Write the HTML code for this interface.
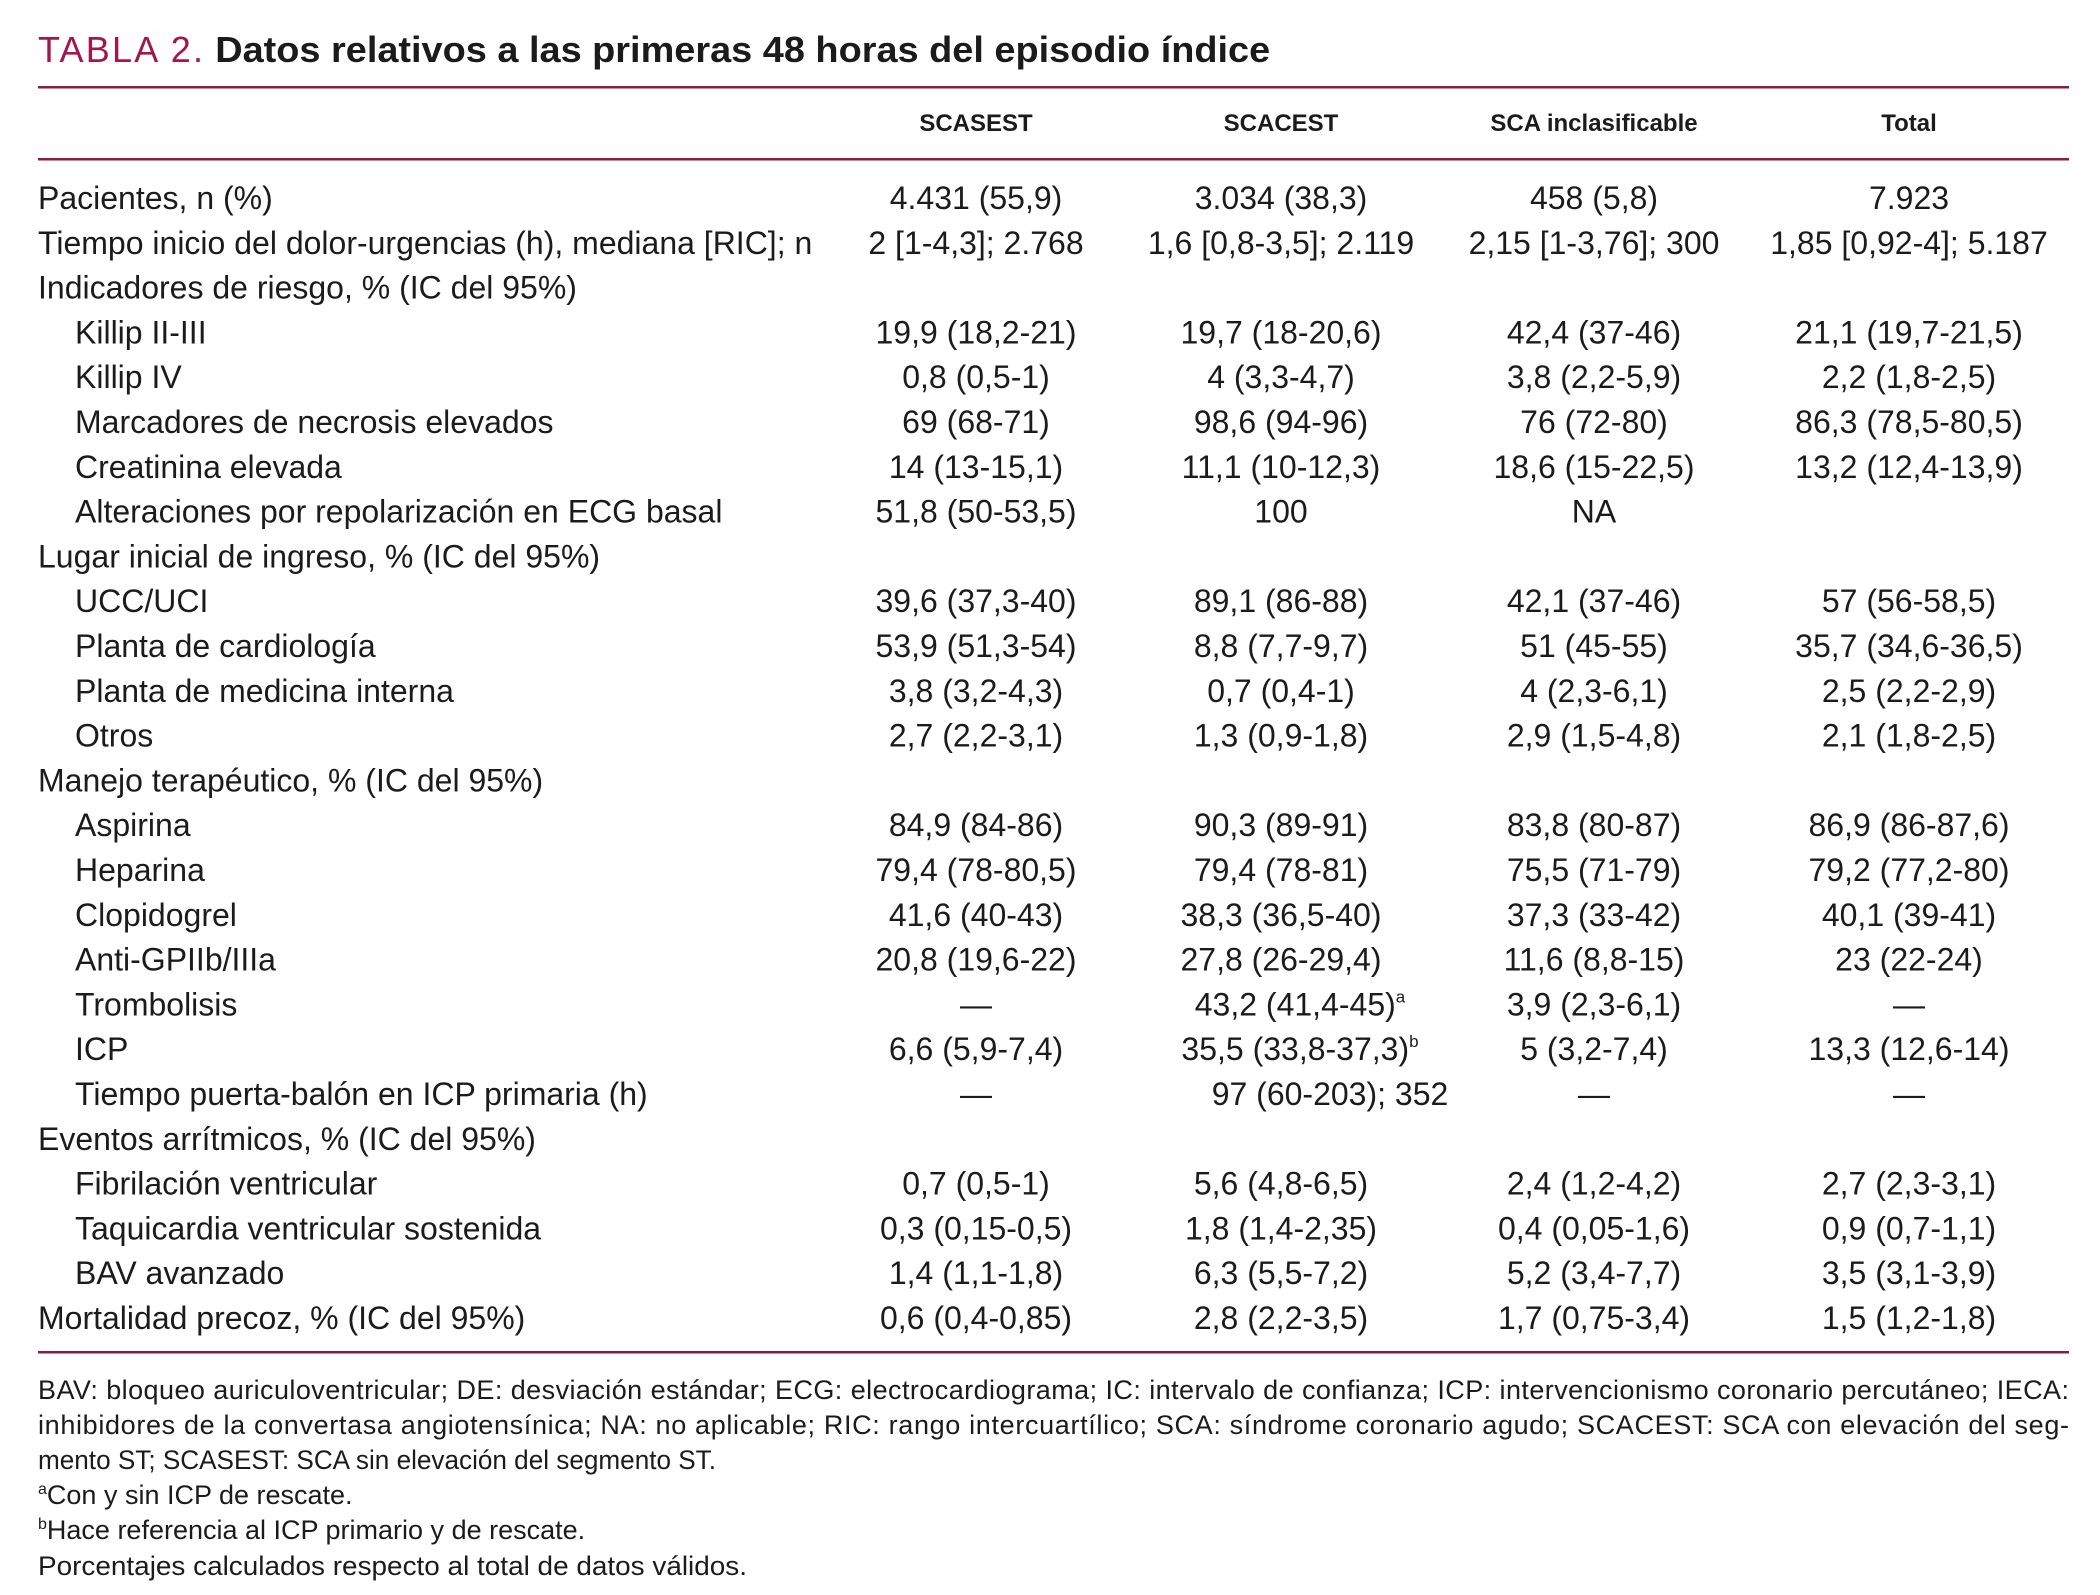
<!DOCTYPE html>
<html><head><meta charset="utf-8"><style>
html,body{margin:0;padding:0;background:#fff;}
svg{display:block;}
text{font-family:"Liberation Sans",sans-serif;fill:#1b1b1b;}
</style></head><body>
<svg id="t" width="2100" height="1595" viewBox="0 0 2100 1595" xmlns="http://www.w3.org/2000/svg">
<text x="38" y="62" font-size="36"><tspan fill="#a3174f" textLength="165">TABLA 2.</tspan><tspan dx="10" font-weight="bold" textLength="1055" lengthAdjust="spacingAndGlyphs">Datos relativos a las primeras 48 horas del episodio índice</tspan></text>
<rect x="38" y="86" width="2031" height="2.5" fill="#8b1d41"/>
<rect x="38" y="158" width="2031" height="2.5" fill="#8b1d41"/>
<rect x="38" y="1351" width="2031" height="2.5" fill="#8b1d41"/>
<g id="hdr"></g>
<g id="body"></g>
<g font-size="27">
<text x="38" y="1399" textLength="2031" lengthAdjust="spacing">BAV: bloqueo auriculoventricular; DE: desviación estándar; ECG: electrocardiograma; IC: intervalo de confianza; ICP: intervencionismo coronario percutáneo; IECA:</text>
<text x="38" y="1434" textLength="2031" lengthAdjust="spacing">inhibidores de la convertasa angiotensínica; NA: no aplicable; RIC: rango intercuartílico; SCA: síndrome coronario agudo; SCACEST: SCA con elevación del seg-</text>
<text x="38" y="1469" textLength="678" lengthAdjust="spacingAndGlyphs">mento ST; SCASEST: SCA sin elevación del segmento ST.</text>
<text x="38" y="1504"><tspan font-size="16" dy="-10">a</tspan><tspan dy="10">Con y sin ICP de rescate.</tspan></text>
<text x="38" y="1539"><tspan font-size="16" dy="-10">b</tspan><tspan dy="10">Hace referencia al ICP primario y de rescate.</tspan></text>
<text x="38" y="1575" textLength="709" lengthAdjust="spacingAndGlyphs">Porcentajes calculados respecto al total de datos válidos.</text>
</g>
</svg>
<script>
const headers=["SCASEST","SCACEST","SCA inclasificable","Total"];
const labels=["Pacientes, n (%)","Tiempo inicio del dolor-urgencias (h), mediana [RIC]; n","Indicadores de riesgo, % (IC del 95%)","Killip II-III","Killip IV","Marcadores de necrosis elevados","Creatinina elevada","Alteraciones por repolarización en ECG basal","Lugar inicial de ingreso, % (IC del 95%)","UCC/UCI","Planta de cardiología","Planta de medicina interna","Otros","Manejo terapéutico, % (IC del 95%)","Aspirina","Heparina","Clopidogrel","Anti-GPIIb/IIIa","Trombolisis","ICP","Tiempo puerta-balón en ICP primaria (h)","Eventos arrítmicos, % (IC del 95%)","Fibrilación ventricular","Taquicardia ventricular sostenida","BAV avanzado","Mortalidad precoz, % (IC del 95%)"];
const indent=[0,0,0,1,1,1,1,1,0,1,1,1,1,0,1,1,1,1,1,1,1,0,1,1,1,0];
const colScasest=["4.431 (55,9)","2 [1-4,3]; 2.768","","19,9 (18,2-21)","0,8 (0,5-1)","69 (68-71)","14 (13-15,1)","51,8 (50-53,5)","","39,6 (37,3-40)","53,9 (51,3-54)","3,8 (3,2-4,3)","2,7 (2,2-3,1)","","84,9 (84-86)","79,4 (78-80,5)","41,6 (40-43)","20,8 (19,6-22)","—","6,6 (5,9-7,4)","—","","0,7 (0,5-1)","0,3 (0,15-0,5)","1,4 (1,1-1,8)","0,6 (0,4-0,85)"];
const colScacest=["3.034 (38,3)","1,6 [0,8-3,5]; 2.119","","19,7 (18-20,6)","4 (3,3-4,7)","98,6 (94-96)","11,1 (10-12,3)","100","","89,1 (86-88)","8,8 (7,7-9,7)","0,7 (0,4-1)","1,3 (0,9-1,8)","","90,3 (89-91)","79,4 (78-81)","38,3 (36,5-40)","27,8 (26-29,4)","43,2 (41,4-45)|a","35,5 (33,8-37,3)|b","97 (60-203); 352","","5,6 (4,8-6,5)","1,8 (1,4-2,35)","6,3 (5,5-7,2)","2,8 (2,2-3,5)"];
const colInclas=["458 (5,8)","2,15 [1-3,76]; 300","","42,4 (37-46)","3,8 (2,2-5,9)","76 (72-80)","18,6 (15-22,5)","NA","","42,1 (37-46)","51 (45-55)","4 (2,3-6,1)","2,9 (1,5-4,8)","","83,8 (80-87)","75,5 (71-79)","37,3 (33-42)","11,6 (8,8-15)","3,9 (2,3-6,1)","5 (3,2-7,4)","—","","2,4 (1,2-4,2)","0,4 (0,05-1,6)","5,2 (3,4-7,7)","1,7 (0,75-3,4)"];
const colTotal=["7.923","1,85 [0,92-4]; 5.187","","21,1 (19,7-21,5)","2,2 (1,8-2,5)","86,3 (78,5-80,5)","13,2 (12,4-13,9)","","","57 (56-58,5)","35,7 (34,6-36,5)","2,5 (2,2-2,9)","2,1 (1,8-2,5)","","86,9 (86-87,6)","79,2 (77,2-80)","40,1 (39-41)","23 (22-24)","—","13,3 (12,6-14)","—","","2,7 (2,3-3,1)","0,9 (0,7-1,1)","3,5 (3,1-3,9)","1,5 (1,2-1,8)"];
const NS="http://www.w3.org/2000/svg";
const colX=[976,1281,1594,1909];
const rowY=i=>209+i*44.8;
const hdr=document.getElementById('hdr');
headers.forEach((h,j)=>{
  const t=document.createElementNS(NS,'text');
  
  
  t.setAttribute('x',colX[j]);t.setAttribute('y',131);
  t.setAttribute('text-anchor','middle');t.setAttribute('font-size','24');t.setAttribute('font-weight','bold');
  t.textContent=h;hdr.appendChild(t);
});
const body=document.getElementById('body');
const cols=[colScasest,colScacest,colInclas,colTotal];
labels.forEach((l,i)=>{
  const t=document.createElementNS(NS,'text');
  
  
  t.setAttribute('x',indent[i]?75:38);t.setAttribute('y',rowY(i));t.setAttribute('font-size','32');
  t.textContent=l;body.appendChild(t);
  cols.forEach((c,j)=>{
    const v=c[i];if(!v)return;
    const parts=v.split('|');
    const d=document.createElementNS(NS,'text');
    
    
    let x=colX[j];
    if(j===1&&i===20)x=1330;
    if(j===1&&parts[1])x=1300;
    d.setAttribute('x',x);d.setAttribute('y',rowY(i));
    d.setAttribute('text-anchor','middle');d.setAttribute('font-size','32');
    d.appendChild(document.createTextNode(parts[0]));
    if(parts[1]){const s=document.createElementNS(NS,'tspan');s.setAttribute('font-size','17');s.setAttribute('dy','-13');s.textContent=parts[1];d.appendChild(s);}
    body.appendChild(d);
  });
});
</script>
</body></html>
